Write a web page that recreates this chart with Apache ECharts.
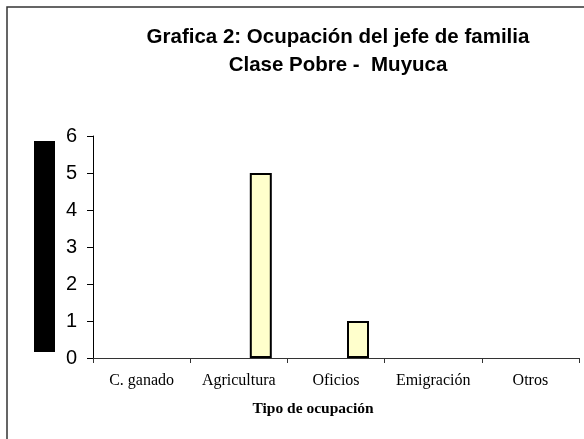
<!DOCTYPE html>
<html>
<head>
<meta charset="utf-8">
<script src="https://cdn.jsdelivr.net/npm/echarts@6/dist/echarts.min.js"></script>
<style>html,body{margin:0;padding:0;background:#fff}#c{width:584px;height:439px}</style>
</head>
<body>
<div id="c"></div>
<script>
var categories = ['C. ganado', 'Agricultura', 'Oficios', 'Emigración', 'Otros'];
var emptyA = [0, 0, 0, 0, 0];
var emptyB = [0, 0, 0, 0, 0];
var values = [0, 5, 1, 0, 0];
var yTicks = [0, 1, 2, 3, 4, 5, 6];
var titleLines = ['Grafica 2: Ocupación del jefe de familia', 'Clase Pobre -  Muyuca'];

function noZero(arr) { return arr.map(function (v) { return v === 0 ? '-' : v; }); }

var chart = echarts.init(document.getElementById('c'), null, {renderer: 'canvas'});
var hidden = {color: 'rgba(0,0,0,0)', borderWidth: 0};
chart.setOption({
  animation: false,
  backgroundColor: '#fff',
  graphic: [
    {type: 'rect', shape: {x: 7, y: 7, width: 640, height: 500}, style: {fill: 'none', stroke: '#333', lineWidth: 1.5}, silent: true},
    {type: 'rect', shape: {x: 34, y: 141, width: 21, height: 211}, style: {fill: '#000'}, silent: true},
    {type: 'text', x: 338, y: 37, style: {text: titleLines[0], textAlign: 'center', textVerticalAlign: 'middle', fill: '#000', font: 'bold 20.5px "Liberation Sans", Arial'}, silent: true},
    {type: 'text', x: 338, y: 65, style: {text: titleLines[1], textAlign: 'center', textVerticalAlign: 'middle', fill: '#000', font: 'bold 20.5px "Liberation Sans", Arial'}, silent: true}
  ],
  grid: {left: 93, right: 5, top: 136, bottom: 81},
  xAxis: {
    type: 'category', data: categories,
    axisLine: {lineStyle: {color: '#333', width: 1}},
    axisTick: {show: true, length: 5, inside: false, lineStyle: {color: '#333'}},
    axisLabel: {fontFamily: 'Liberation Serif, Times New Roman', fontSize: 16, color: '#000', margin: 15},
    name: 'Tipo de ocupación', nameLocation: 'middle', nameGap: 43,
    nameTextStyle: {fontFamily: 'Liberation Serif, Times New Roman', fontWeight: 'bold', fontSize: 15.5, color: '#000', padding: [0, 46, 0, 0]}
  },
  yAxis: {
    type: 'value', min: yTicks[0], max: yTicks[yTicks.length - 1], interval: 1,
    axisLine: {show: true, lineStyle: {color: '#000', width: 1}},
    axisTick: {show: true, length: 6, lineStyle: {color: '#000'}},
    splitLine: {show: false},
    axisLabel: {fontFamily: 'Liberation Sans, Arial', fontSize: 20, color: '#000', margin: 16}
  },
  series: [
    {type: 'bar', data: noZero(emptyA), barWidth: 22, barGap: '0%', itemStyle: hidden, silent: true},
    {type: 'bar', data: noZero(emptyB), barWidth: 22, barGap: '0%', itemStyle: hidden, silent: true},
    {type: 'bar', data: noZero(values), barWidth: 22, barGap: '0%', itemStyle: {color: '#FFFFCC', borderColor: '#000', borderWidth: 2}}
  ]
});
</script>
</body>
</html>
